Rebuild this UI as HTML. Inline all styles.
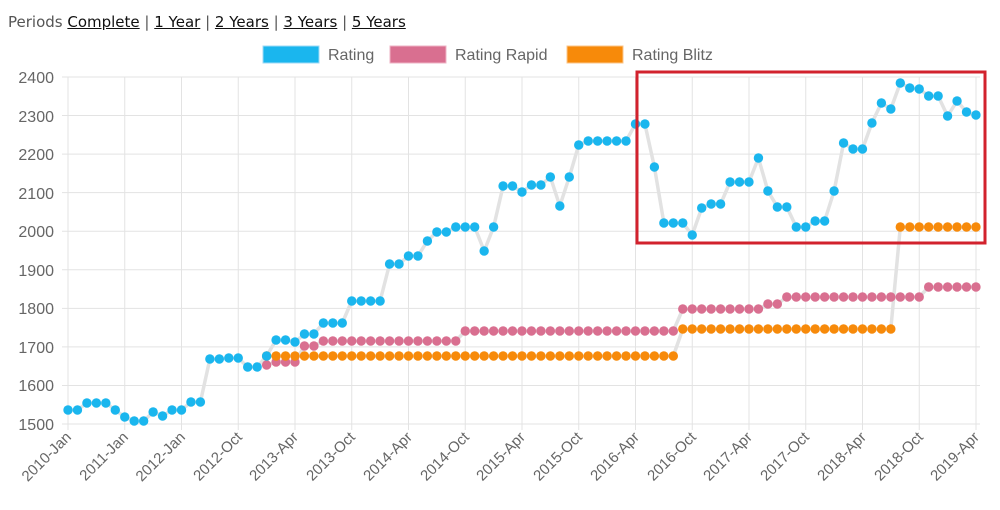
<!DOCTYPE html>
<html><head><meta charset="utf-8"><style>
body{margin:0;background:#fff;width:1000px;height:510px;overflow:hidden;font-family:"Liberation Sans",sans-serif}
.per{position:absolute;left:8px;top:13px;font-size:15px;color:#555;font-family:"DejaVu Sans",sans-serif;white-space:nowrap}
.per u{color:#111}
svg{position:absolute;left:0;top:0}
</style></head><body>
<div class="per">Periods <u>Complete</u> | <u>1 Year</u> | <u>2 Years</u> | <u>3 Years</u> | <u>5 Years</u></div>
<svg id="s" width="1000" height="510" font-family="Liberation Sans, sans-serif">
<g stroke="#e3e3e3" stroke-width="1" id="grid"></g>
<g font-size="16" fill="#666">
<rect x="263" y="46" width="56" height="17" fill="#1ab6ee" stroke="#9fd9f5"/>
<text x="328" y="60">Rating</text>
<rect x="390" y="46" width="56" height="17" fill="#d96f90" stroke="#eeb3c5"/>
<text x="455" y="60">Rating Rapid</text>
<rect x="567" y="46" width="56" height="17" fill="#f78a0a" stroke="#fbc58a"/>
<text x="632" y="60">Rating Blitz</text>
</g>
<g font-size="16" fill="#666" text-anchor="end">
<text x="54" y="83">2400</text><text x="54" y="122">2300</text><text x="54" y="160">2200</text>
<text x="54" y="199">2100</text><text x="54" y="237">2000</text><text x="54" y="276">1900</text>
<text x="54" y="314">1800</text><text x="54" y="353">1700</text><text x="54" y="391">1600</text>
<text x="54" y="430">1500</text>
</g>
<g font-size="15" fill="#666" text-anchor="end" id="xl">
<text transform="translate(72,438) rotate(-45)">2010-Jan</text>
<text transform="translate(129,438) rotate(-45)">2011-Jan</text>
<text transform="translate(186,438) rotate(-45)">2012-Jan</text>
<text transform="translate(243,438) rotate(-45)">2012-Oct</text>
<text transform="translate(299,438) rotate(-45)">2013-Apr</text>
<text transform="translate(356,438) rotate(-45)">2013-Oct</text>
<text transform="translate(413,438) rotate(-45)">2014-Apr</text>
<text transform="translate(470,438) rotate(-45)">2014-Oct</text>
<text transform="translate(526,438) rotate(-45)">2015-Apr</text>
<text transform="translate(583,438) rotate(-45)">2015-Oct</text>
<text transform="translate(640,438) rotate(-45)">2016-Apr</text>
<text transform="translate(697,438) rotate(-45)">2016-Oct</text>
<text transform="translate(753,438) rotate(-45)">2017-Apr</text>
<text transform="translate(810,438) rotate(-45)">2017-Oct</text>
<text transform="translate(867,438) rotate(-45)">2018-Apr</text>
<text transform="translate(924,438) rotate(-45)">2018-Oct</text>
<text transform="translate(980,438) rotate(-45)">2019-Apr</text>
</g>
<g id="lines"></g><g id="dots"></g>
<rect x="637" y="72" width="348" height="171" fill="none" stroke="#d2222d" stroke-width="3"/>
</svg>
<script>
var NS="http://www.w3.org/2000/svg";
function el(p,t,a){var e=document.createElementNS(NS,t);for(var k in a)e.setAttribute(k,a[k]);p.appendChild(e);return e;}
var g=document.getElementById('grid');
for(var i=0;i<10;i++){var y=77+i*38.56;el(g,'line',{x1:62,x2:980,y1:y,y2:y});}
for(var i=0;i<17;i++){var x=68+i*56.75;el(g,'line',{x1:x,x2:x,y1:77,y2:430});}
var X=function(i){return 68+i*9.458;};
var blue=[410,410,403,403,403,410,417,421,421,412,416,410,410,402,402,359,359,358,358,367,367,356,340,340,342,334,334,323,323,323,301,301,301,301,264,264,256,256,241,232,232,227,227,227,251,227,186,186,192,185,185,177,206,177,145,141,141,141,141,141,124,124,167,223,223,223,235,208,204,204,182,182,182,158,191,207,207,227,227,221,221,191,143,149,149,123,103,109,83,88,89,96,96,116,101,112,115];
var pink=[],orange=[];
for(var i=0;i<97;i++){
 pink.push(i<21?null:i<25?(i==21?365:362):i<27?346:i<42?341:i<65?331:i<74?309:i<76?304:i<91?297:287);
 orange.push(i<21?null:i<65?356:i<88?329:227);
}
var L=document.getElementById('lines'),D=document.getElementById('dots');
[[pink,'#d96f90'],[orange,'#f78a0a'],[blue,'#1ab6ee']].forEach(function(s){
 var d='';s[0].forEach(function(y,i){if(y!==null)d+=(d?'L':'M')+X(i).toFixed(1)+' '+y;});
 el(L,'path',{d:d,fill:'none',stroke:'#e2e2e2','stroke-width':3.5,'stroke-linejoin':'round'});
});
[[pink,'#d96f90'],[orange,'#f78a0a'],[blue,'#1ab6ee']].forEach(function(s){
 s[0].forEach(function(y,i){if(y!==null)el(D,'circle',{cx:X(i),cy:y,r:4.7,fill:s[1]});});
});
</script>
</body></html>
